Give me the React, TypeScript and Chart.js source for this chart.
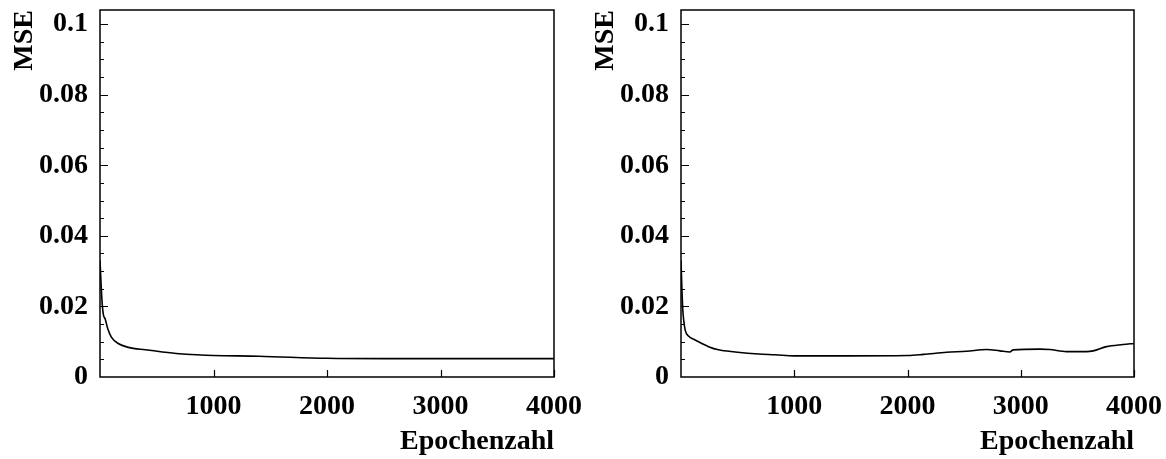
import React, { useEffect, useRef } from "react";
import { Chart, registerables } from "chart.js";

Chart.register(...registerables);

// ---- data ----
const yTicks = [0, 0.02, 0.04, 0.06, 0.08, 0.1];
const yTickLabels = ["0", "0.02", "0.04", "0.06", "0.08", "0.1"];
const yMinorTicks = [
  0.005, 0.01, 0.015, 0.02, 0.025, 0.03, 0.035, 0.04, 0.045, 0.05,
  0.055, 0.06, 0.065, 0.07, 0.075, 0.08, 0.085, 0.09, 0.095, 0.1,
];
const xTicks = [1000, 2000, 3000, 4000];
const xTickLabels = ["1000", "2000", "3000", "4000"];

const leftEpochs = [0, 10, 20, 30, 45, 70, 100, 160, 250, 400, 550, 700, 850, 1000, 1400, 2000, 2500, 3000, 3500, 4000];
const leftMse = [0.033, 0.026, 0.0205, 0.0176, 0.0165, 0.0135, 0.0113, 0.0095, 0.0084, 0.0077, 0.0071, 0.0066, 0.0063, 0.0061, 0.0059, 0.0053, 0.0052, 0.0052, 0.0052, 0.0052];

const rightEpochs = [0, 8, 15, 22, 37, 66, 125, 184, 243, 331, 478, 684, 831, 1000, 1463, 2004, 2139, 2345, 2521, 2698, 2816, 2904, 2933, 3168, 3256, 3404, 3580, 3639, 3757, 3903, 4000];
const rightMse = [0.033, 0.025, 0.0195, 0.0166, 0.0133, 0.0116, 0.0105, 0.0095, 0.0086, 0.0077, 0.0071, 0.0065, 0.0063, 0.006, 0.006, 0.0061, 0.0064, 0.007, 0.0073, 0.0078, 0.0074, 0.0071, 0.0077, 0.0079, 0.0078, 0.0072, 0.0072, 0.0074, 0.0086, 0.0092, 0.0095];

const yTitle = "MSE";
const xTitle = "Epochenzahl";

const FONT = '"Liberation Serif", "Times New Roman", serif';

const framePlugin = {
  id: "frameTicks",
  afterDraw(chart: any) {
    const { ctx, chartArea: a } = chart;
    const x = chart.scales.x;
    const y = chart.scales.y;
    ctx.save();
    ctx.strokeStyle = "#000";
    ctx.lineWidth = 1.5;
    ctx.strokeRect(a.left, a.top, a.right - a.left, a.bottom - a.top);
    ctx.lineWidth = 1.2;
    ctx.beginPath();
    for (const v of yMinorTicks) {
      const py = Math.round(y.getPixelForValue(v)) + 0.5;
      const major = yTicks.some((t) => Math.abs(t - v) < 1e-9);
      const len = major ? 8 : 4;
      ctx.moveTo(a.left, py);
      ctx.lineTo(a.left + len, py);
    }
    for (const v of xTicks) {
      const px = Math.round(x.getPixelForValue(v)) + 0.5;
      ctx.moveTo(px, a.bottom);
      ctx.lineTo(px, a.bottom - 7);
    }
    ctx.stroke();
    ctx.restore();
  },
};

function Panel({ epochs, values, left, width, padRight }: { epochs: number[]; values: number[]; left: number; width: number; padRight: number }) {
  const ref = useRef<HTMLCanvasElement | null>(null);
  useEffect(() => {
    if (!ref.current) return;
    const font = { family: FONT, weight: "bold" as const, size: 28 };
    const chart = new Chart(ref.current, {
      type: "line",
      data: {
        datasets: [
          {
            data: epochs.map((e, i) => ({ x: e, y: values[i] })),
            borderColor: "#000",
            borderWidth: 1.6,
            pointRadius: 0,
            fill: false,
            cubicInterpolationMode: "monotone",
          },
        ],
      },
      options: {
        responsive: false,
        animation: false,
        devicePixelRatio: 1,
        layout: { padding: { top: 10, left: 0, right: padRight, bottom: 0 } },
        plugins: { legend: { display: false }, tooltip: { enabled: false } },
        scales: {
          x: {
            type: "linear",
            min: 0,
            max: 4000,
            afterBuildTicks: (s: any) => {
              s.ticks = xTicks.map((v) => ({ value: v }));
            },
            afterFit: (s: any) => {
              s.height = 82;
              s.paddingLeft = 0;
              s.paddingRight = 0;
            },
            grid: { display: false, drawTicks: false },
            border: { display: false },
            ticks: {
              autoSkip: false,
              maxRotation: 0,
              padding: 13,
              color: "#000",
              font,
              callback: (_v: any, i: number) => xTickLabels[i],
            },
            title: {
              display: true,
              text: xTitle,
              align: "end",
              color: "#000",
              font,
              padding: { top: 0, bottom: 0 },
            },
          },
          y: {
            type: "linear",
            min: 0,
            max: 0.104,
            afterBuildTicks: (s: any) => {
              s.ticks = yTicks.map((v) => ({ value: v }));
            },
            afterFit: (s: any) => {
              s.width = 100;
              s.paddingTop = 0;
              s.paddingBottom = 0;
            },
            grid: { display: false, drawTicks: false },
            border: { display: false },
            ticks: {
              autoSkip: false,
              padding: 12,
              color: "#000",
              font,
              callback: (_v: any, i: number) => yTickLabels[i],
            },
            title: {
              display: true,
              text: yTitle,
              align: "end",
              color: "#000",
              font,
              padding: { top: 8, bottom: 0 },
            },
          },
        },
      } as any,
      plugins: [framePlugin],
    });
    return () => chart.destroy();
  }, []);
  return (
    <canvas
      ref={ref}
      width={width}
      height={459}
      style={{ position: "absolute", left, top: 0, width, height: 459, display: "block" }}
    />
  );
}

export default function App() {
  return (
    <div style={{ position: "absolute", left: 0, top: 0, width: 1166, height: 459, background: "#fff", overflow: "hidden" }}>
      <Panel epochs={leftEpochs} values={leftMse} left={0} width={583} padRight={29} />
      <Panel epochs={rightEpochs} values={rightMse} left={581} width={583} padRight={30} />
    </div>
  );
}
